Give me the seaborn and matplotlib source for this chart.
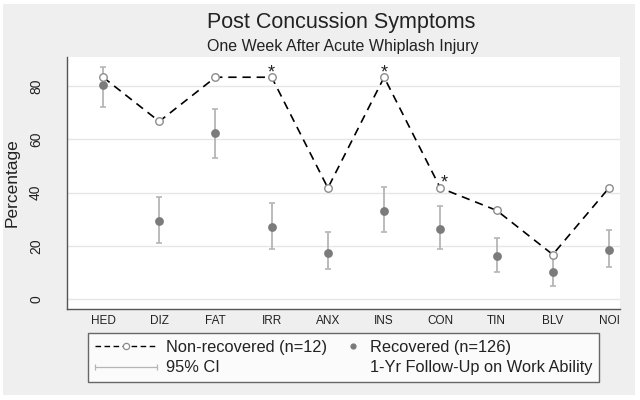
import numpy as np
import pandas as pd
import seaborn as sns
import matplotlib.pyplot as plt
from matplotlib.lines import Line2D
from matplotlib.patches import Rectangle
from matplotlib.legend_handler import HandlerBase

# Dados
symptoms = ['HED', 'DIZ', 'FAT', 'IRR', 'ANX', 'INS', 'CON', 'TIN', 'BLV', 'NOI']
nonrec = [83.3, 66.7, 83.3, 83.3, 41.7, 83.3, 41.7, 33.3, 16.7, 41.7]
rec = [80.2, 29.4, 62.2, 27.2, 17.2, 33.2, 26.2, 16.1, 10.1, 18.3]
rec_lo = [72.2, 21.1, 53.0, 18.9, 11.2, 25.0, 18.9, 10.1, 4.9, 12.1]
rec_hi = [87.0, 38.2, 71.2, 36.0, 25.0, 42.0, 35.0, 23.0, 17.0, 26.0]
significant = ['IRR', 'INS', 'CON']

df = pd.DataFrame({'pos': np.arange(len(symptoms)), 'symptom': symptoms,
                   'nonrec': nonrec, 'rec': rec, 'lo': rec_lo, 'hi': rec_hi})

sns.set_style('white')
plt.rcParams['font.family'] = ['Liberation Sans', 'DejaVu Sans']

BG = '#efefef'
DARK = '#222222'
AXC = '#555555'
OPEN_EDGE = '#8c8c8c'
DOT = '#7b7b7b'
CI = '#b5b5b5'

fig = plt.figure(figsize=(6.4, 4.0), dpi=100, facecolor='white')
fig.patches.append(Rectangle((3 / 640, 5 / 400), 632 / 640, 391 / 400,
                             transform=fig.transFigure, facecolor=BG,
                             edgecolor='none', zorder=-10))
ax = fig.add_axes([66.7 / 640, 1 - 309 / 400, (620 - 66.7) / 640, (309 - 57) / 400])
ax.set_facecolor('white')

# Grade horizontal
for v in [0, 20, 40, 60, 80]:
    ax.axhline(v, color='#e6e6e6', lw=1.0, zorder=0)

# IC 95% dos recuperados
ax.errorbar(df['pos'], df['rec'], yerr=[df['rec'] - df['lo'], df['hi'] - df['rec']],
            fmt='none', ecolor=CI, elinewidth=1.3, capsize=2.5, capthick=1.2, zorder=2)

# Recuperados
sns.scatterplot(data=df, x='pos', y='rec', ax=ax, color=DOT, s=40,
                linewidth=0, zorder=3, legend=False)

# Não recuperados
sns.lineplot(data=df, x='pos', y='nonrec', ax=ax, color='black', lw=1.2,
             linestyle=(0, (5, 3.5)), marker='o', markersize=5.4,
             markerfacecolor='white', markeredgecolor=OPEN_EDGE,
             markeredgewidth=1.0, zorder=4, legend=False)

# Asteriscos de significância
star_dx = {'IRR': 0, 'INS': 0, 'CON': 3}
for s in significant:
    i = symptoms.index(s)
    ax.annotate('*', xy=(i, nonrec[i]), xytext=(star_dx[s], 0), textcoords='offset points',
                ha='center', va='baseline', fontsize=13, color=DARK, zorder=5)

ax.set_xlim(-0.646, 9.196)
ax.set_ylim(-3.76, 90.9)
ax.set_xticks(df['pos'])
ax.set_xticklabels(symptoms, fontsize=8.5, color=DARK)
ax.set_yticks([0, 20, 40, 60, 80])
ax.set_yticklabels(['0', '20', '40', '60', '80'], fontsize=10, color=DARK,
                   rotation=90, va='center')
ax.tick_params(axis='x', length=0, pad=4)
ax.tick_params(axis='y', length=4, width=1, color=AXC, pad=13)
ax.set_xlabel('')
ax.set_ylabel('Percentage', fontsize=12.5, color=DARK, labelpad=7)
for side in ['top', 'right']:
    ax.spines[side].set_visible(False)
for side in ['left', 'bottom']:
    ax.spines[side].set_color(AXC)
    ax.spines[side].set_linewidth(1.0)

# Títulos
fig.text(341 / 640, 1 - 28 / 400, 'Post Concussion Symptoms', ha='center', va='baseline',
         fontsize=15.5, color=DARK)
fig.text(343 / 640, 1 - 51.5 / 400, 'One Week After Acute Whiplash Injury', ha='center',
         va='baseline', fontsize=11.5, color=DARK)


# Legenda com marcadores personalizados
class CIHandler(HandlerBase):
    def create_artists(self, legend, orig_handle, xdescent, ydescent, width, height, fontsize, trans):
        y = (height - ydescent) / 2
        x0, x1 = -xdescent, width - xdescent
        ln = Line2D([x0, x1], [y, y], color=CI, lw=0.9, transform=trans)
        caps = Line2D([x0, x1], [y, y], ls='none', marker='|', ms=4, mew=0.9,
                      color=CI, transform=trans)
        return [ln, caps]


class RightDotHandler(HandlerBase):
    def create_artists(self, legend, orig_handle, xdescent, ydescent, width, height, fontsize, trans):
        y = (height - ydescent) / 2
        x = width - xdescent - 6
        return [Line2D([x], [y], ls='none', marker='o', ms=4.5, mew=0,
                       color=DOT, transform=trans)]


class BlankHandler(HandlerBase):
    def create_artists(self, legend, orig_handle, xdescent, ydescent, width, height, fontsize, trans):
        return [Line2D([], [], visible=False, transform=trans)]


h_nonrec = Line2D([], [], color='black', lw=1.0, linestyle=(0, (4, 2.5)), marker='o',
                  markersize=4.5, markerfacecolor='white', markeredgecolor=OPEN_EDGE,
                  markeredgewidth=0.9)
h_ci = Line2D([], [])
h_rec = Line2D([], [])
h_blank = Line2D([], [])

leg = fig.legend([h_nonrec, h_ci, h_rec, h_blank],
                 ['Non-recovered (n=12)', '95% CI', 'Recovered (n=126)',
                  '1-Yr Follow-Up on Work Ability'],
                 handler_map={h_ci: CIHandler(), h_rec: RightDotHandler(), h_blank: BlankHandler()},
                 ncol=2, loc='upper left', bbox_to_anchor=(88 / 640, 1 - 333 / 400),
                 fontsize=11.8, handlelength=3.8, handletextpad=0.55, columnspacing=-1.7,
                 borderpad=0.4, labelspacing=0.36, borderaxespad=0,
                 frameon=True, fancybox=False, shadow=False, numpoints=1)
frame = leg.get_frame()
frame.set_edgecolor('#444444')
frame.set_linewidth(1.0)
frame.set_facecolor('white')
for t in leg.get_texts():
    t.set_color(DARK)

fig.savefig('out.png', dpi=100, facecolor=fig.get_facecolor())
